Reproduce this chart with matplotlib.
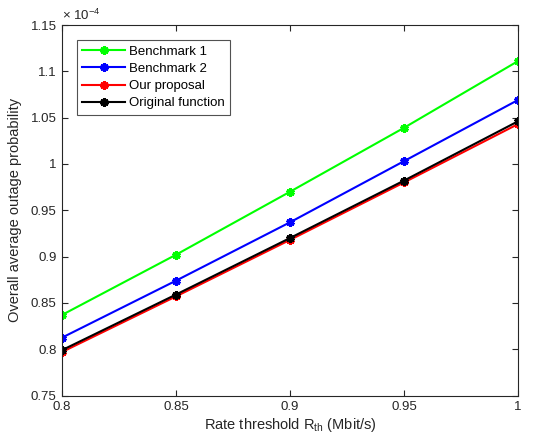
import matplotlib
matplotlib.use("Agg")
import matplotlib.pyplot as plt
from matplotlib.ticker import FormatStrFormatter

plt.rcParams['font.family'] = ['Liberation Sans', 'DejaVu Sans']
plt.rcParams['mathtext.fontset'] = 'custom'
plt.rcParams['mathtext.rm'] = 'Liberation Sans'
plt.rcParams['mathtext.it'] = 'Liberation Sans:italic'

rate = [0.8, 0.85, 0.9, 0.95, 1.0]
bench1 = [0.837, 0.902, 0.970, 1.039, 1.111]
bench2 = [0.8125, 0.874, 0.937, 1.003, 1.069]
proposal = [0.797, 0.857, 0.918, 0.980, 1.043]
original = [0.799, 0.859, 0.920, 0.982, 1.046]

labels = ['Benchmark 1', 'Benchmark 2', 'Our proposal', 'Original function']
colors = ['#00ff00', '#0000ff', '#ff0000', '#000000']
series = [bench1, bench2, proposal, original]

xticks = [0.8, 0.85, 0.9, 0.95, 1.0]
yticks = [0.75, 0.8, 0.85, 0.9, 0.95, 1.0, 1.05, 1.1, 1.15]

fig = plt.figure(figsize=(5.37, 4.45), dpi=100)
ax = fig.add_axes([0.1155, 0.1112, 0.849, 0.8326])

for s, lab, c in zip(series, labels, colors):
    ax.plot(rate, s, color=c, lw=1.5, marker=(6, 2, 0), ms=6, mew=2.2,
            mec=c, label=lab)

ax.set_xlim(0.8, 1.0)
ax.set_ylim(0.75, 1.15)
ax.set_xticks(xticks)
ax.set_yticks(yticks)
ax.xaxis.set_major_formatter(FormatStrFormatter('%g'))
ax.yaxis.set_major_formatter(FormatStrFormatter('%g'))
dark = '#262626'
ax.tick_params(direction='in', length=4, width=0.8, top=True, right=True,
               labelsize=9.5, colors=dark, pad=4)
for sp in ax.spines.values():
    sp.set_color(dark)
    sp.set_linewidth(0.8)

ax.set_xlabel('Rate threshold R$_{\\mathrm{th}}$ (Mbit/s)', fontsize=10.5, color=dark, labelpad=2)
ax.set_ylabel('Overall average outage probability', fontsize=10.5, color=dark, labelpad=6)
ax.text(0.0, 1.005, '\u00d7 10$^{-4}$', transform=ax.transAxes, fontsize=9.5,
        color=dark, ha='left', va='bottom')

leg = ax.legend(loc='upper left', bbox_to_anchor=(0.032, 0.959), fontsize=9.5,
                frameon=True, fancybox=False, edgecolor=dark, handlelength=3.3,
                handletextpad=0.3, borderpad=0.4, labelspacing=0.38,
                borderaxespad=0.0)
leg.get_frame().set_linewidth(0.8)

fig.savefig('out.png', dpi=100)
